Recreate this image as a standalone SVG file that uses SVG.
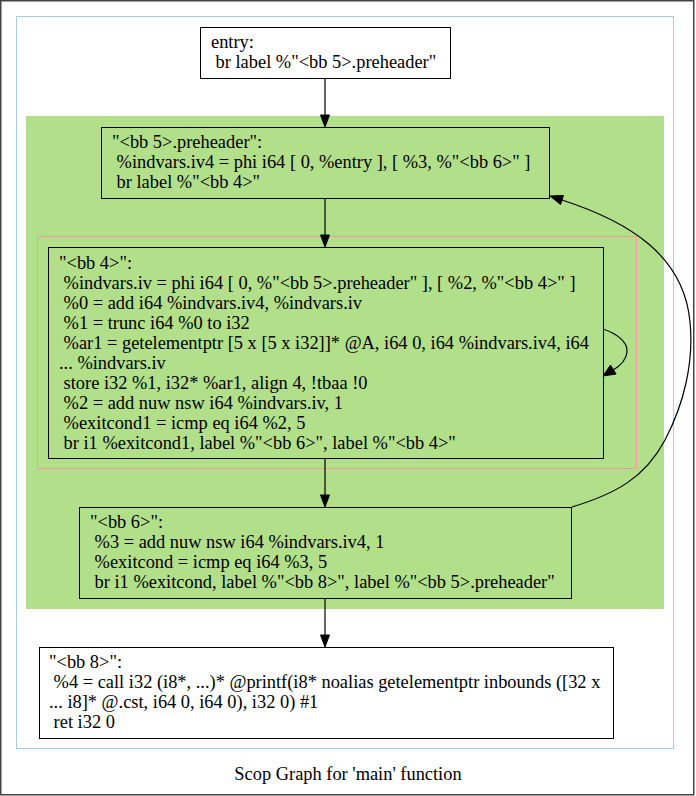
<svg xmlns="http://www.w3.org/2000/svg" width="696" height="796" viewBox="0 0 696 796">
<defs>
<style>
text { font-family: "Liberation Serif", "Times New Roman", serif; font-size: 18.4px; fill: #000; white-space: pre; }
.node { stroke: #000; stroke-width: 1; }
.edge { fill: none; stroke: #000; stroke-width: 1.2; }
.head { fill: #000; stroke: #000; stroke-width: 1; }
</style>
</defs>
<rect x="0.75" y="0.75" width="693" height="794" fill="#fff" stroke="#444" stroke-width="1.5"/>
<rect id="frame" x="16.5" y="16.5" width="657" height="732" fill="#fff" stroke="#a6cee3" stroke-width="1"/>
<rect id="cluster-loop" x="26" y="116" width="638" height="493" fill="#b2df8a"/>
<rect id="cluster-inner" x="37.5" y="236.5" width="599" height="232" fill="#b2df8a" stroke="#fb9a99" stroke-width="1"/>

<g id="connectors">
<path class="edge" d="M325,78 V115"/>
<polygon class="head" points="320.5,115 329.5,115 325,127"/>
<path class="edge" d="M325,198 V235"/>
<polygon class="head" points="320.5,235 329.5,235 325,247"/>
<path class="edge" d="M325,458 V495"/>
<polygon class="head" points="320.5,495 329.5,495 325,507"/>
<path class="edge" d="M325,598 V635"/>
<polygon class="head" points="320.5,635 329.5,635 325,647"/>
<path class="edge" d="M603,329 C615,333 628,341 627,352 C626,361 620,366 613,370"/>
<polygon class="head" points="610.5,365 616,374 603,376"/>
<path class="edge" d="M572,507 C615,494 645,478 665,440 C684,404 694,362 690,322 C684,256 630,222 562,200"/>
<polygon class="head" points="563.5,195.5 560.5,204.5 550,196"/>
</g>

<g id="entry">
<rect class="node" x="200.5" y="27.5" width="250" height="51" fill="#fff"/>
<text x="211" y="48">entry:</text>
<text x="211" y="68"> br label %"&lt;bb 5&gt;.preheader"</text>
</g>

<g id="bb5_preheader">
<rect class="node" x="101.5" y="127.5" width="448" height="71" fill="#b2df8a"/>
<text x="112" y="148">"&lt;bb 5&gt;.preheader":</text>
<text x="112" y="168"> %indvars.iv4 = phi i64 [ 0, %entry ], [ %3, %"&lt;bb 6&gt;" ]</text>
<text x="112" y="188"> br label %"&lt;bb 4&gt;"</text>
</g>

<g id="bb4">
<rect class="node" x="48.5" y="247.5" width="555" height="211" fill="#b2df8a"/>
<text x="59" y="269">"&lt;bb 4&gt;":</text>
<text x="59" y="289"> %indvars.iv = phi i64 [ 0, %"&lt;bb 5&gt;.preheader" ], [ %2, %"&lt;bb 4&gt;" ]</text>
<text x="59" y="309"> %0 = add i64 %indvars.iv4, %indvars.iv</text>
<text x="59" y="329"> %1 = trunc i64 %0 to i32</text>
<text x="59" y="349"> %ar1 = getelementptr [5 x [5 x i32]]* @A, i64 0, i64 %indvars.iv4, i64</text>
<text x="59" y="369">... %indvars.iv</text>
<text x="59" y="389"> store i32 %1, i32* %ar1, align 4, !tbaa !0</text>
<text x="59" y="409"> %2 = add nuw nsw i64 %indvars.iv, 1</text>
<text x="59" y="429"> %exitcond1 = icmp eq i64 %2, 5</text>
<text x="59" y="449"> br i1 %exitcond1, label %"&lt;bb 6&gt;", label %"&lt;bb 4&gt;"</text>
</g>

<g id="bb6">
<rect class="node" x="79.5" y="507.5" width="492" height="91" fill="#b2df8a"/>
<text x="90" y="528">"&lt;bb 6&gt;":</text>
<text x="90" y="548"> %3 = add nuw nsw i64 %indvars.iv4, 1</text>
<text x="90" y="568"> %exitcond = icmp eq i64 %3, 5</text>
<text x="90" y="588"> br i1 %exitcond, label %"&lt;bb 8&gt;", label %"&lt;bb 5&gt;.preheader"</text>
</g>

<g id="bb8">
<rect class="node" x="39.5" y="647.5" width="574" height="91" fill="#fff"/>
<text x="49" y="668">"&lt;bb 8&gt;":</text>
<text x="49" y="688"> %4 = call i32 (i8*, ...)* @printf(i8* noalias getelementptr inbounds ([32 x</text>
<text x="49" y="708">... i8]* @.cst, i64 0, i64 0), i32 0) #1</text>
<text x="49" y="728"> ret i32 0</text>
</g>

<text id="title" x="348" y="780" text-anchor="middle">Scop Graph for 'main' function</text>
</svg>
